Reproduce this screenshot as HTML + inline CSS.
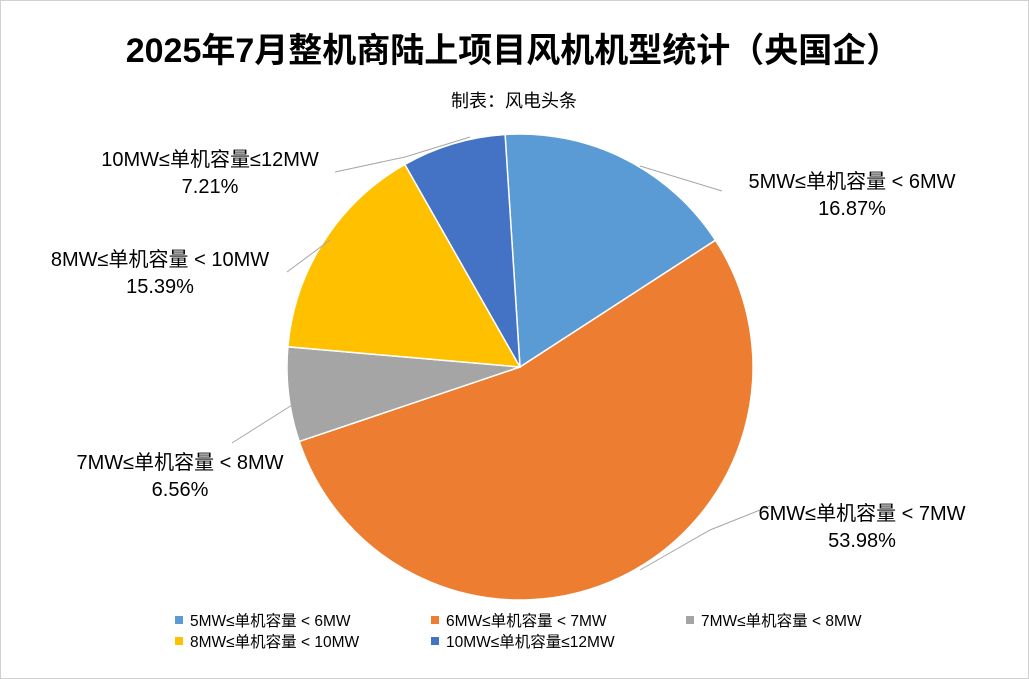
<!DOCTYPE html>
<html><head><meta charset="utf-8"><style>
body{margin:0;width:1029px;height:679px;background:#fff;overflow:hidden}
svg{display:block}
text{font-family:"Liberation Sans","Noto Sans CJK SC",sans-serif;fill:#000}
</style></head><body>
<svg id="s" width="1029" height="679" xmlns="http://www.w3.org/2000/svg">
<rect x="0.5" y="0.5" width="1028" height="678" fill="#fff" stroke="#d0d0d0"/>
<text x="513" y="62" font-size="34" font-weight="bold" text-anchor="middle">2025年7月整机商陆上项目风机机型统计（央国企）</text>
<text x="514" y="107" font-size="18" text-anchor="middle">制表：风电头条</text>
<g id="pie"></g>
<g stroke="#a6a6a6" fill="none" stroke-width="1">
<polyline points="335,172 405,157 470,137"/>
<polyline points="722,191 640,166"/>
<polyline points="287,272 330,240"/>
<polyline points="232,443 300,400"/>
<polyline points="770,506 710,530 640,570"/>
</g>
<g font-size="20" text-anchor="middle">
<text x="210" y="166">10MW≤单机容量≤12MW</text><text x="210" y="193">7.21%</text>
<text x="852" y="188">5MW≤单机容量 &lt; 6MW</text><text x="852" y="215">16.87%</text>
<text x="160" y="266">8MW≤单机容量 &lt; 10MW</text><text x="160" y="293">15.39%</text>
<text x="180" y="469">7MW≤单机容量 &lt; 8MW</text><text x="180" y="496">6.56%</text>
<text x="862" y="520">6MW≤单机容量 &lt; 7MW</text><text x="862" y="547">53.98%</text>
</g>
<g font-size="15.5">
<rect x="175" y="616" width="8" height="8" fill="#5b9bd5"/><text x="190" y="626">5MW≤单机容量 &lt; 6MW</text>
<rect x="431" y="616" width="8" height="8" fill="#ed7d31"/><text x="446" y="626">6MW≤单机容量 &lt; 7MW</text>
<rect x="686" y="616" width="8" height="8" fill="#a5a5a5"/><text x="701" y="626">7MW≤单机容量 &lt; 8MW</text>
<rect x="175" y="637" width="8" height="8" fill="#ffc000"/><text x="190" y="647">8MW≤单机容量 &lt; 10MW</text>
<rect x="431" y="637" width="8" height="8" fill="#4472c4"/><text x="446" y="647">10MW≤单机容量≤12MW</text>
</g>
</svg>
<script>
var cx=520,cy=367,r=233,a=-93.7*Math.PI/180;
var d=[[16.87,"#5b9bd5"],[53.98,"#ed7d31"],[6.56,"#a5a5a5"],[15.39,"#ffc000"],[7.21,"#4472c4"]];
var g=document.getElementById("pie"),h="";
d.forEach(function(s){var b=a+s[0]/100*2*Math.PI;
var x1=cx+r*Math.cos(a),y1=cy+r*Math.sin(a),x2=cx+r*Math.cos(b),y2=cy+r*Math.sin(b);
h+='<path d="M'+cx+','+cy+'L'+x1+','+y1+'A'+r+','+r+' 0 '+(b-a>Math.PI?1:0)+' 1 '+x2+','+y2+'Z" fill="'+s[1]+'" stroke="#fff" stroke-width="1.5"/>';a=b;});
g.innerHTML=h;
</script>
</body></html>
